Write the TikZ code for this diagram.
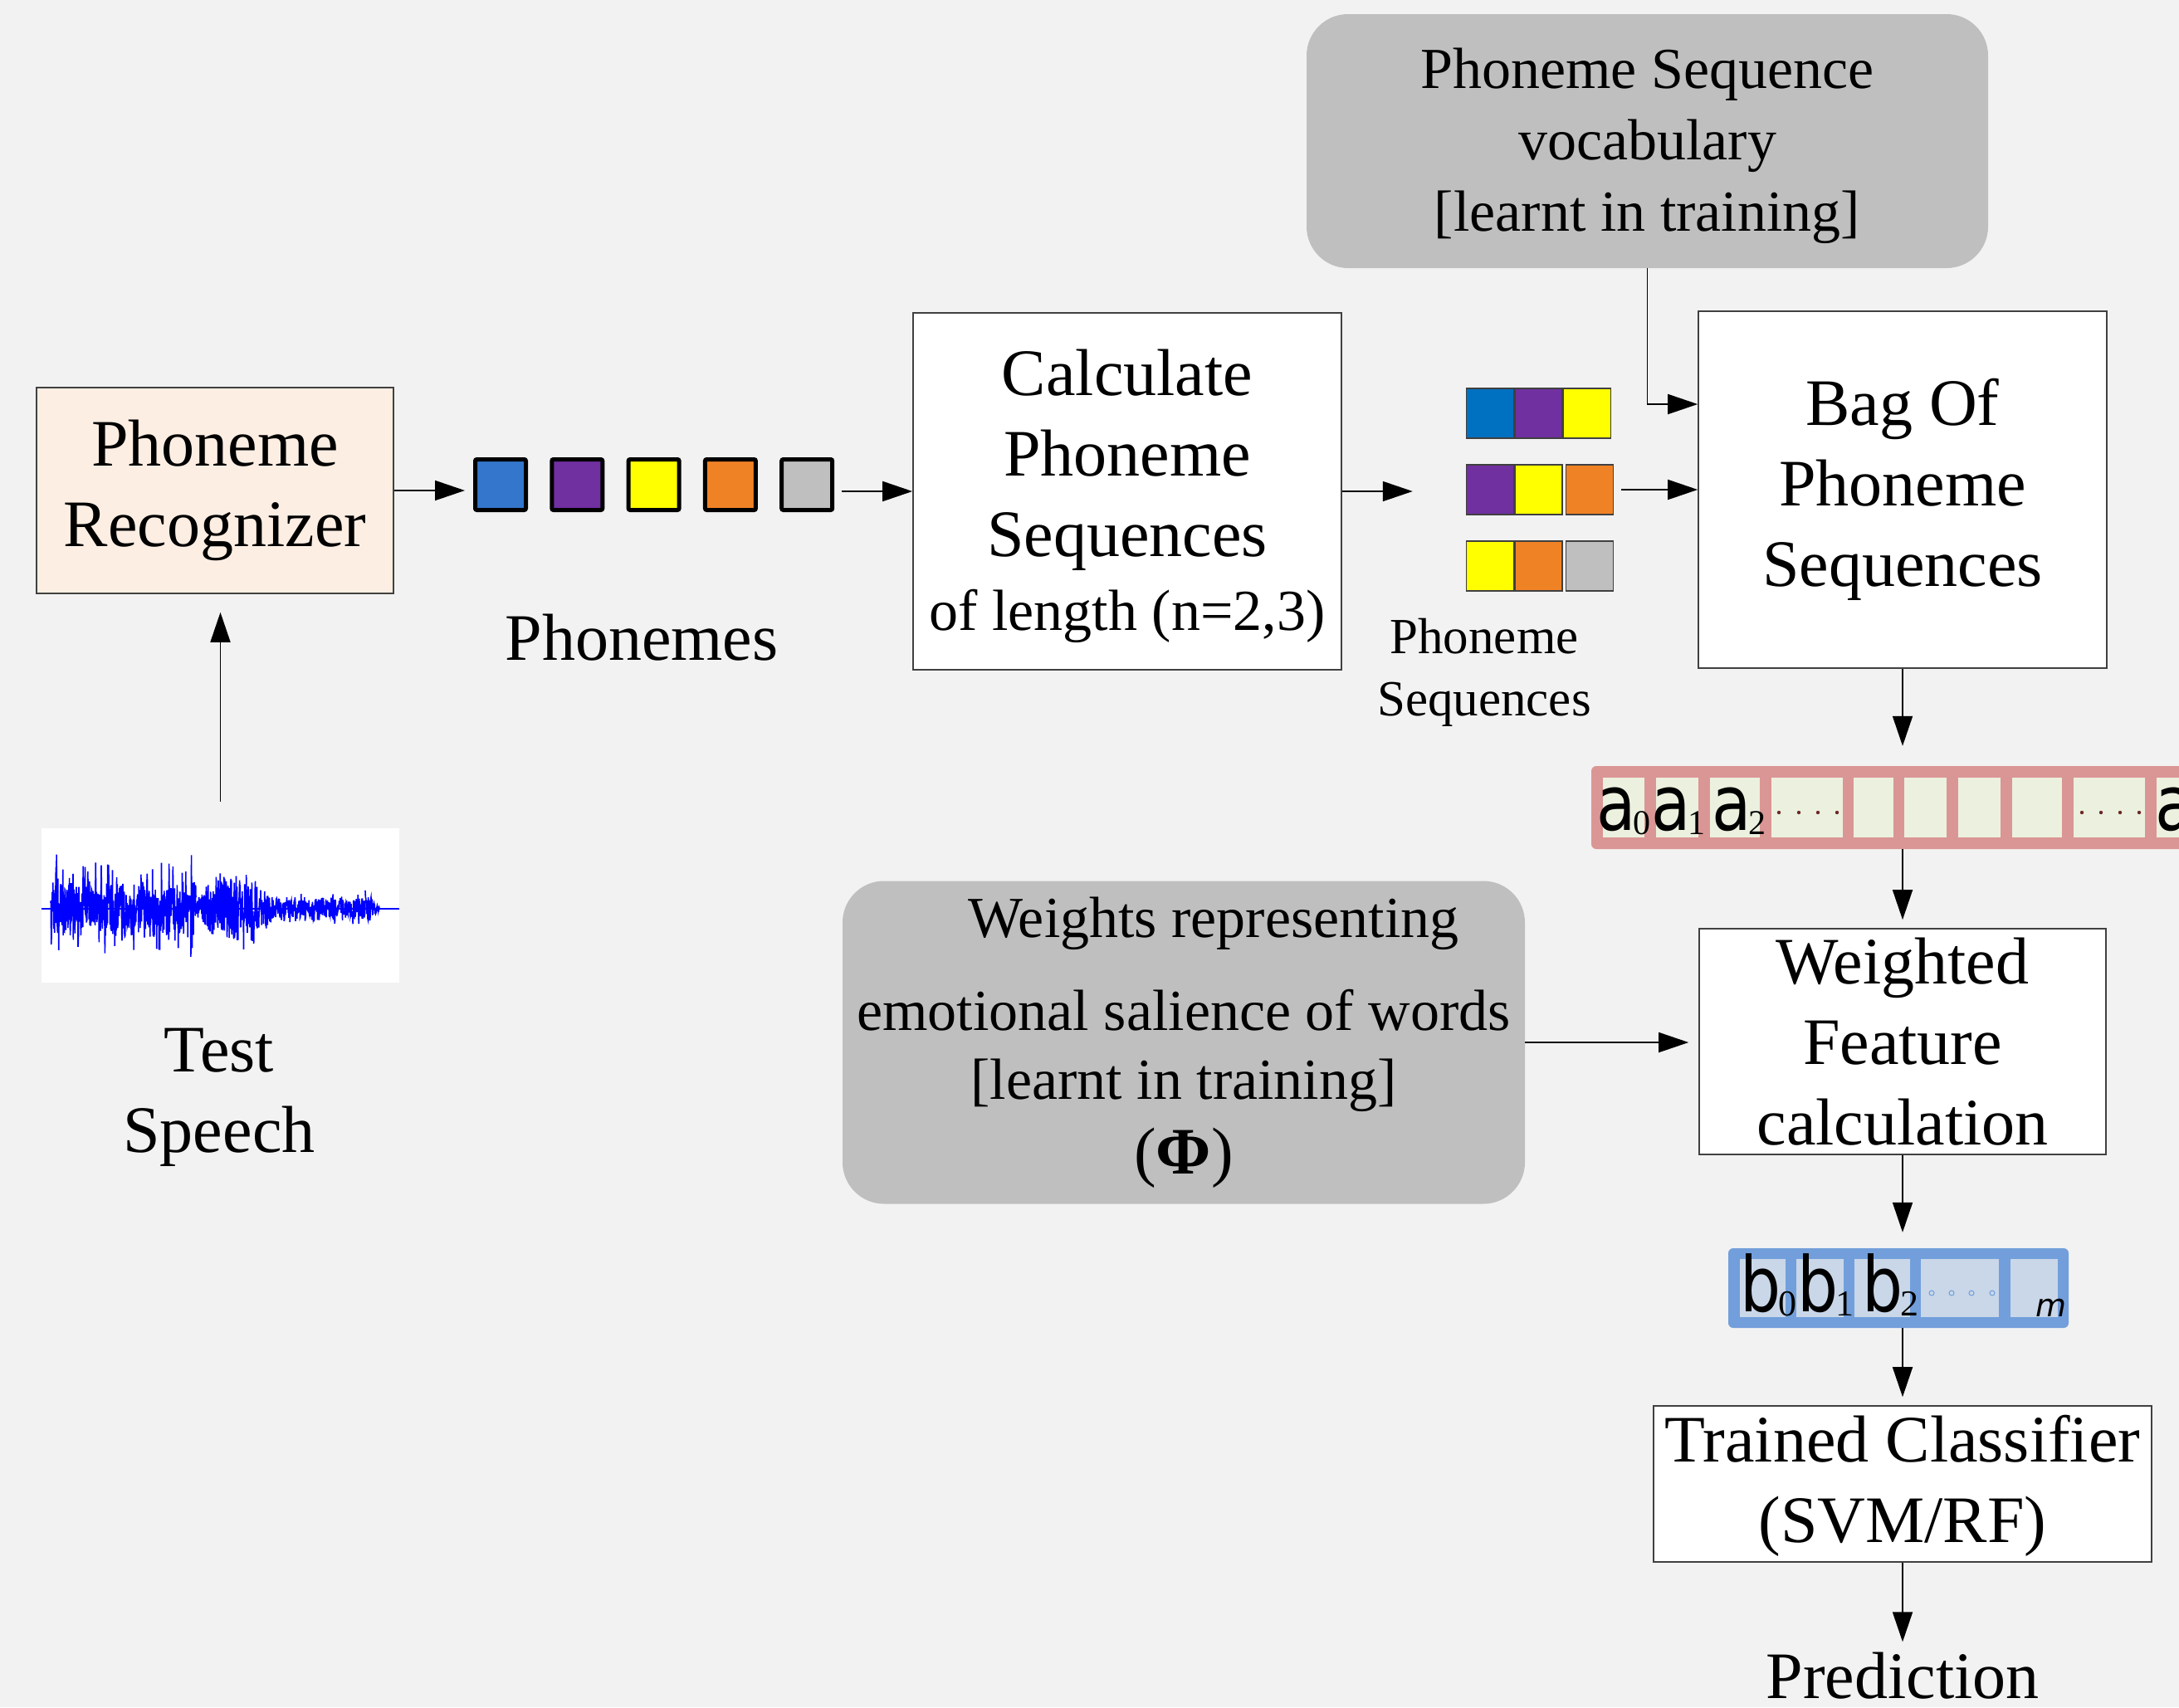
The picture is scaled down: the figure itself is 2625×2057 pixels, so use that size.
\documentclass[tikz,border=0pt]{standalone}
\usepackage{fontspec}
\setmainfont{Liberation Serif}
\newfontfamily\vecfont{DejaVu Sans}
\usetikzlibrary{arrows.meta,positioning}

\definecolor{bggray}{RGB}{242,242,242}
\definecolor{peach}{RGB}{253,238,227}
\definecolor{boxgray}{RGB}{191,191,191}
\definecolor{phblue}{RGB}{51,118,204}
\definecolor{seqblue}{RGB}{0,112,192}
\definecolor{phpurple}{RGB}{112,48,160}
\definecolor{phyellow}{RGB}{255,255,0}
\definecolor{phorange}{RGB}{240,130,38}
\definecolor{phgray}{RGB}{191,191,191}
\definecolor{vecpink}{RGB}{218,150,148}
\definecolor{cellgreen}{RGB}{235,241,222}
\definecolor{dotred}{RGB}{110,40,40}
\definecolor{vecblue}{RGB}{114,159,219}
\definecolor{cellblue}{RGB}{201,215,232}
\definecolor{wavblue}{RGB}{0,0,255}

\newcommand\bigtxt{\fontsize{80}{97}\selectfont}
\newcommand\midtxt{\fontsize{70}{86}\selectfont}
\newcommand\smalltxt{\fontsize{61}{75}\selectfont}
% vector entry: big sans letter with a small index
\newcommand\veclab[3]{{\fontsize{92}{92}\vecfont\scalebox{0.84}[1]{#1}}\kern-3pt{\fontsize{#3}{#3}\selectfont\raisebox{-5pt}{#2}}}

\begin{document}
\begin{tikzpicture}[x=1pt,y=-1pt,
  arr/.style={-{Triangle[length=36pt,width=24pt]},line width=1.8pt,black},
  procbox/.style={draw=black!75,line width=1.6pt,fill=white,inner sep=0pt,align=center,font=\bigtxt},
  learntbox/.style={fill=boxgray,rounded corners=50pt,inner sep=0pt,align=center,font=\midtxt},
  phsq/.style={draw=black,line width=5pt,rounded corners=2pt,minimum size=61pt,inner sep=0pt},
  seqsq/.style={draw=black!75,line width=1.5pt,minimum width=57pt,minimum height=60pt,inner sep=0pt},
  wav/.style={wavblue,line width=1.6pt},
  plaintext/.style={align=center,inner sep=0pt}]

\useasboundingbox (0,0) rectangle (2625,2057);
\clip (0,0) rectangle (2625,2057);
\fill[bggray] (0,0) rectangle (2625,2057);

% recognizer and speech input
\node[procbox,fill=peach,minimum width=430pt,minimum height=248pt] (rec) at (259,591) {Phoneme\\Recognizer};
\node[fill=white,minimum width=431pt,minimum height=186pt,inner sep=0pt] (wave) at (265.5,1091) {};
\pgfmathsetseed{11}
\draw[wavblue,line width=2pt] (50,1095) -- (481,1095);
\draw[wav] plot[samples=520,domain=61:236] (\x,{1095+74*rand*(0.3+0.7*rnd*rnd)});
\draw[wav] plot[samples=300,domain=236:332] (\x,{1095+(15+55*sin(1.875*(\x-236)))*rand*(0.5+0.5*rnd*rnd)});
\draw[wav] plot[samples=320,domain=332:440] (\x,{1095+25*rand*(0.4+0.6*rnd*rnd)});
\draw[wav] plot[samples=50,domain=440:458] (\x,{1095+(1.33*(458-\x))*rand});

\node[plaintext,font=\bigtxt] (speech) at (264,1322) {Test\\Speech};

% phonemes
\foreach \c [count=\i from 0] in {phblue,phpurple,phyellow,phorange,phgray}
  \node[phsq,fill=\c] (ph\i) at ({603+92.3*\i},584) {};
\node[plaintext,font=\bigtxt] (phlab) at (773,768) {Phonemes};

\node[procbox,minimum width=516pt,minimum height=430pt] (calc) at (1358,592)
  {\rule{0pt}{68pt}Calculate\\Phoneme\\Sequences\\[-8pt]{\midtxt of length (n=2,3)}};

% phoneme sequences
\foreach \r/\y/\ca/\cb/\cc/\g in {1/498/seqblue/phpurple/phyellow/0pt,2/590/phpurple/phyellow/phorange/3pt,3/682/phyellow/phorange/phgray/3pt} {
  \node[seqsq,fill=\ca] (s\r1) at (1795,\y) {};
  \node[seqsq,fill=\cb,right=0pt of s\r1] (s\r2) {};
  \node[seqsq,fill=\cc,right=\g of s\r2] (s\r3) {};
}
\node[plaintext,font=\smalltxt] (seqlab) at (1788,810) {Phoneme\\Sequences};

\node[learntbox,minimum width=821pt,minimum height=306pt] (vocab) at (1984.5,170)
  {\rule{0pt}{60pt}Phoneme Sequence\\vocabulary\\{[}learnt in training]};
\node[procbox,minimum width=492pt,minimum height=430pt] (bag) at (2292,590) {Bag Of\\Phoneme\\Sequences};

% count vector a
\node[fill=vecpink,rounded corners=6pt,minimum width=800pt,minimum height=100pt,inner sep=0pt] (avec) at (2317,973) {};
\foreach \xa/\xb in {1931/1981,1995/2046,2060/2120,2134/2220,2233/2281,2294/2345,2359/2410,2424/2484,2498/2584,2598/2720}
  \fill[cellgreen] (\xa,937) rectangle (\xb,1009);
\foreach \xd in {2143,2167,2190,2213,2508,2531,2554,2577}
  \fill[dotred] (\xd,979) circle (2.2pt);
\node[anchor=base west,inner sep=0pt] (a0) at (1923,1000) {\veclab{a}{0}{42}};
\node[anchor=base west,inner sep=0pt] (a1) at (1989,1000) {\veclab{a}{1}{42}};
\node[anchor=base west,inner sep=0pt] (a2) at (2062,1000) {\veclab{a}{2}{42}};
\node[anchor=base west,inner sep=0pt] (an) at (2596,1000) {\veclab{a}{}{42}};

% weights
\node[learntbox,minimum width=822pt,minimum height=389pt] (weights) at (1426,1256)
  {\hspace*{72pt}Weights representing\\[26pt]emotional salience of words\\[-3pt]{[}learnt in training]\\[4pt]{\bigtxt(\textbf{Φ})}};
\node[procbox,minimum width=490pt,minimum height=272pt] (wfeat) at (2292,1255) {Weighted\\Feature\\calculation};

% weighted vector b
\node[fill=vecblue,rounded corners=6pt,minimum width=410pt,minimum height=96pt,inner sep=0pt] (bvec) at (2287,1552) {};
\foreach \xa/\xb in {2096/2151,2164/2221,2234/2301,2314/2408,2422/2479}
  \fill[cellblue] (\xa,1517) rectangle (\xb,1587);
\foreach \xd in {2327,2351,2375,2400}
  \draw[vecblue,line width=1pt] (\xd,1558) circle (3pt);
\node[anchor=base west,inner sep=0pt] (b0) at (2096,1580) {\veclab{b}{0}{44}};
\node[anchor=base west,inner sep=0pt] (b1) at (2165,1580) {\veclab{b}{1}{44}};
\node[anchor=base west,inner sep=0pt] (b2) at (2243,1580) {\veclab{b}{2}{44}};
\node[anchor=base east,inner sep=0pt] (bm) at (2490,1586) {\fontsize{38}{38}\vecfont\itshape m};

\node[procbox,minimum width=600pt,minimum height=188pt] (train) at (2292,1788) {\rule{0pt}{60pt}Trained Classifier\\(SVM/RF)};
\node[plaintext,font=\bigtxt,anchor=base,text depth=0pt] (pred) at (2292,2046) {Prediction};

% connectors
\draw[arr,shorten <=32pt,shorten >=22pt] (wave.north) -- (wave.north |- rec.south);
\draw[arr,shorten >=10pt] (rec.east) -- (rec.east -| ph0.west);
\draw[arr,shorten <=9pt] (ph4.east |- calc.west) -- (calc.west);
\draw[arr,shorten >=64pt] (calc.east) -- (calc.east -| s21.west);
\draw[arr,shorten <=9pt] (s23.east) -- (s23.east -| bag.west);
\draw[arr] (vocab.south) |- ([yshift=103pt]bag.west);
\draw[arr,shorten >=24pt] (bag.south) -- (bag.south |- avec.north);
\draw[arr,shorten >=10pt] (bag.south |- avec.south) -- (wfeat.north);
\draw[arr,shorten >=12pt] (weights.east) -- (weights.east -| wfeat.west);
\draw[arr,shorten >=19pt] (wfeat.south) -- (wfeat.south |- bvec.north);
\draw[arr,shorten >=10pt] (wfeat.south |- bvec.south) -- (train.north);
\draw[arr,shorten >=12pt] (train.south) -- (pred.north);
\end{tikzpicture}
\end{document}
